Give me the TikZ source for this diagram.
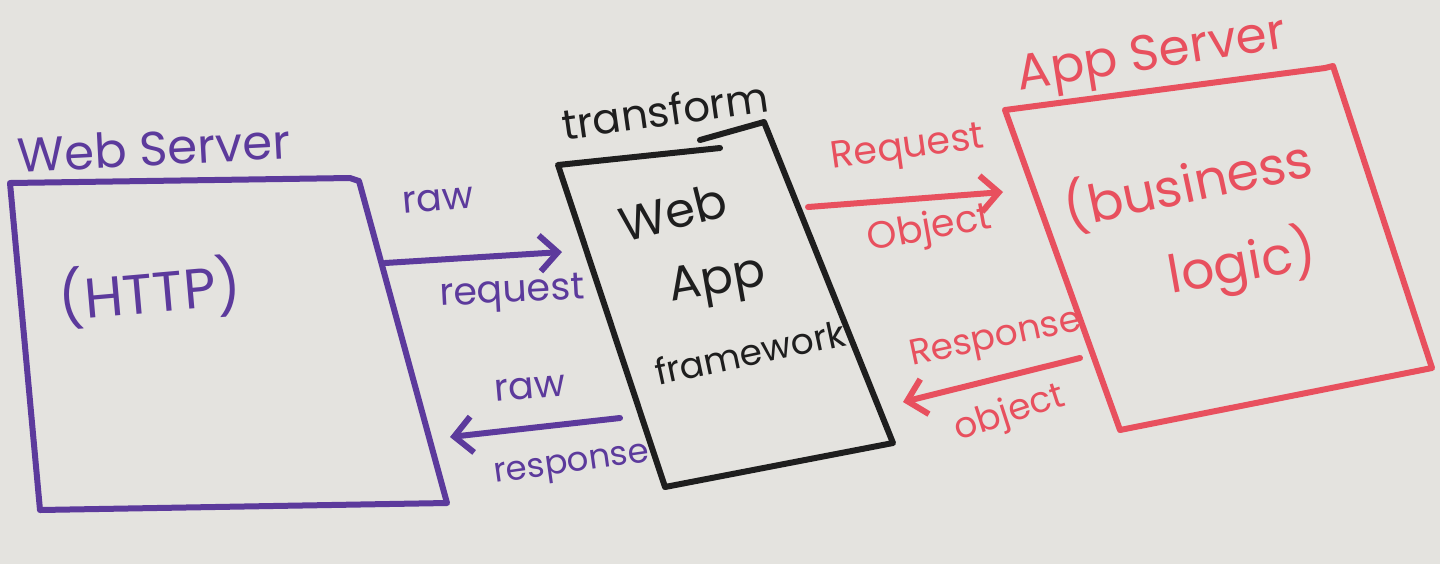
\documentclass[tikz,border=0pt]{standalone}
\usepackage{fontspec}
\setmainfont{Poppins}
\usetikzlibrary{arrows.meta}
\definecolor{board}{HTML}{E4E3DF}
\definecolor{pur}{HTML}{5C3A9C}
\definecolor{blk}{HTML}{1E1E1E}
\definecolor{red}{HTML}{E8505E}
\begin{document}
\begin{tikzpicture}[x=0.5pt,y=-0.5pt,
  pen/.style={line width=3pt,line cap=round,line join=round},
  arr/.style={pen,-{Straight Barb[length=9pt,width=18pt,line width=3pt]}},
  lbl/.style={inner sep=0pt,font=\fontsize{19}{21}\selectfont},
  big/.style={inner sep=0pt,font=\fontsize{24}{26}\selectfont}]
\fill[board] (0,0) rectangle (1440,564);
\useasboundingbox (0,0) rectangle (1440,564);

% Web Server box
\coordinate (ws1) at (10,183);
\coordinate (ws2) at (350,178);
\coordinate (ws3) at (359,181);
\coordinate (ws4) at (447,503);
\coordinate (ws5) at (40,510);
\draw[pen,pur] (ws3) -- (ws4) -- (ws5) -- (ws1) -- (ws2) -- (ws3);
\node[big,pur,rotate=3] (wst) at (154,148) {Web Server};
\node[big,pur,rotate=5,font=\fontsize{28}{30}\selectfont] (http) at (150,292) {(HTTP)};

% Framework box
\coordinate (fw1) at (558,165);
\coordinate (fw2) at (720,148);
\coordinate (fw3) at (700,140);
\coordinate (fw4) at (764,122);
\coordinate (fw5) at (893,443);
\coordinate (fw6) at (665,487);
\draw[pen,blk] (fw2) -- (fw1) -- (fw6) -- (fw5) -- (fw4) -- (fw3);
\node[big,blk,rotate=8,font=\fontsize{21}{23}\selectfont] (tr) at (665,110) {transform};
\node[big,blk,rotate=14] (fwa) at (673,212) {Web};
\node[big,blk,rotate=10] (fwb) at (718,283) {App};
\node[big,blk,rotate=12,font=\fontsize{18}{20}\selectfont] (fwc) at (750,352) {framework};

% App Server box
\coordinate (as1) at (1005,110);
\coordinate (as2) at (1325,68);
\coordinate (as3) at (1333,66);
\coordinate (as4) at (1432,368);
\coordinate (as5) at (1120,430);
\draw[pen,red] (as1) -- (as2) -- (as3) -- (as4) -- (as5) -- (as1);
\node[big,red,rotate=9,font=\fontsize{25}{27}\selectfont] (ast) at (1152,58) {App Server};
\node[big,red,rotate=12,font=\fontsize{26}{28}\selectfont] (bl1) at (1188,183) {(business};
\node[big,red,rotate=10,font=\fontsize{26}{28}\selectfont] (bl2) at (1242,264) {logic)};

% connectors
\coordinate (a1s) at (385,263);
\coordinate (a1e) at (562,252);
\draw[arr,pur] (a1s) -- (a1e);
\node[lbl,pur,rotate=5] (raw1) at (438,200) {raw};
\node[lbl,pur,rotate=3] (req1) at (512,294) {request};

\coordinate (a2s) at (620,418);
\coordinate (a2e) at (450,437);
\draw[arr,pur] (a2s) -- (a2e);
\node[lbl,pur,rotate=5] (raw2) at (530,388) {raw};
\node[lbl,pur,rotate=8,font=\fontsize{17}{19}\selectfont] (res2) at (572,467) {response};

\coordinate (a3s) at (808,207);
\coordinate (a3e) at (1003,192);
\draw[arr,red] (a3s) -- (a3e);
\node[lbl,red,rotate=8] (req3) at (908,150) {Request};
\node[lbl,red,rotate=10] (obj3) at (930,230) {Object};

\coordinate (a4s) at (1080,358);
\coordinate (a4e) at (903,402);
\draw[arr,red] (a4s) -- (a4e);
\node[lbl,red,rotate=12,font=\fontsize{18}{20}\selectfont] (res4) at (996,340) {Response};
\node[lbl,red,rotate=18,font=\fontsize{18}{20}\selectfont] (obj4) at (1010,414) {object};
\end{tikzpicture}
\end{document}
